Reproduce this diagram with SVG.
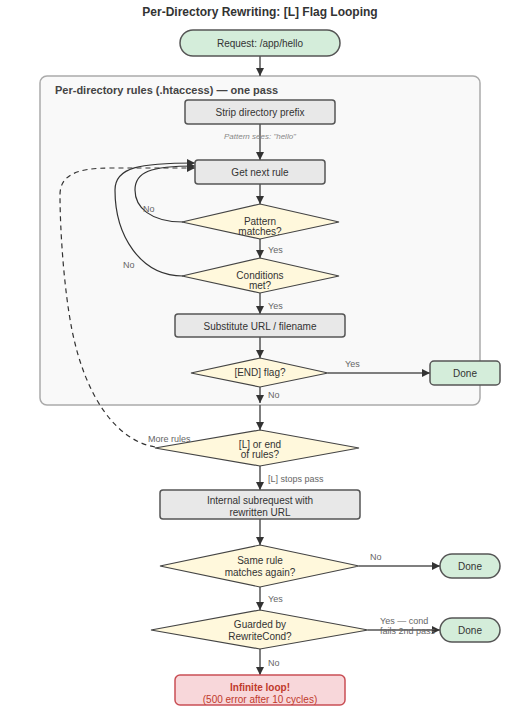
<svg xmlns="http://www.w3.org/2000/svg" width="520" height="720" viewBox="0 0 520 720">
<defs>
<marker id="ah" viewBox="0 0 10 10" refX="10" refY="5" markerWidth="10" markerHeight="8" markerUnits="userSpaceOnUse" orient="auto">
<path d="M0,0 L10,5 L0,10 z" fill="#333"/>
</marker>
<style>
text{font-family:"Liberation Sans",Arial,sans-serif;}
.t{font-size:10px;fill:#333;text-anchor:middle;dominant-baseline:central;}
.lbl{font-size:9px;fill:#666;dominant-baseline:central;}
.proc{fill:#e8e8e8;stroke:#555;stroke-width:1.5;}
.ok{fill:#d4edda;stroke:#555;stroke-width:1.5;}
.dec{fill:#fff8dc;stroke:#444;stroke-width:1.2;}
.e{fill:none;stroke:#555;stroke-width:1.5;marker-end:url(#ah);}
.c{fill:none;stroke:#333;stroke-width:1.2;marker-end:url(#ah);}
</style>
</defs>
<rect width="520" height="720" fill="#fff"/>
<text x="260" y="16" text-anchor="middle" font-size="12" font-weight="bold" fill="#333">Per-Directory Rewriting: [L] Flag Looping</text>

<g id="cluster">
<rect x="40" y="76" width="440" height="329" rx="7" fill="#f9f9f9" stroke="#aaa" stroke-width="1.5"/>
<text x="55" y="90" font-size="11" font-weight="bold" fill="#444" dominant-baseline="central">Per-directory rules (.htaccess) — one pass</text>
</g>

<g id="connectors">
<path class="e" d="M260,56 L260,76"/>
<path class="e" d="M260,124 L260,160"/>
<path class="e" d="M260,184 L260,204"/>
<path class="e" d="M260,239 L260,258"/>
<path class="e" d="M260,293 L260,314"/>
<path class="e" d="M260,337 L260,358"/>
<path class="e" d="M328,373 L430,373"/>
<path class="e" d="M260,387 L260,403"/>
<path class="e" d="M260,405 L260,430"/>
<path class="e" d="M260,466 L260,490"/>
<path class="e" d="M260,519 L260,545"/>
<path class="e" d="M359,566 L440,566"/>
<path class="e" d="M260,587 L260,610"/>
<path class="e" d="M368,630 L440,630"/>
<path class="e" d="M260,649 L260,675"/>
<path class="c" d="M183,222 C150,222 135,207 135,190 C135,172 150,166 195,166"/>
<path class="c" d="M183,276 C140,276 115,235 115,190 C115,167 140,163 195,163"/>
<path class="c" d="M155,447 C115,440 85,395 72,330 C64,290 60,230 60,195 C60,176 75,168 110,168 L195,168" stroke-dasharray="5,4"/>
<text class="lbl" x="268" y="250">Yes</text>
<text class="lbl" x="268" y="306">Yes</text>
<text class="lbl" x="345" y="364">Yes</text>
<text class="lbl" x="268" y="395">No</text>
<text class="lbl" x="143" y="209">No</text>
<text class="lbl" x="123" y="265">No</text>
<text class="lbl" x="148" y="439">More rules</text>
<text class="lbl" x="268" y="479">[L] stops pass</text>
<text class="lbl" x="370" y="557">No</text>
<text class="lbl" x="268" y="599">Yes</text>
<text class="lbl" x="380" y="621">Yes — cond</text>
<text class="lbl" x="380" y="631">fails 2nd pass</text>
<text class="lbl" x="268" y="663">No</text>
<text x="260" y="136" text-anchor="middle" font-size="8" font-style="italic" fill="#888" dominant-baseline="central">Pattern sees: "hello"</text>
</g>

<g id="request">
<rect class="ok" x="180" y="30" width="160" height="26" rx="13"/>
<text class="t" x="260" y="43">Request: /app/hello</text>
</g>
<g id="strip">
<rect class="proc" x="185" y="100" width="150" height="24" rx="3"/>
<text class="t" x="260" y="112">Strip directory prefix</text>
</g>
<g id="nextrule">
<rect class="proc" x="195" y="160" width="130" height="24" rx="3"/>
<text class="t" x="260" y="172">Get next rule</text>
</g>
<g id="pattern">
<polygon class="dec" points="260,204 339,222 260,239 182,222"/>
<text class="t" x="260" y="221">Pattern</text>
<text class="t" x="260" y="231.5">matches?</text>
</g>
<g id="conditions">
<polygon class="dec" points="260,258 339,276 260,293 182,276"/>
<text class="t" x="260" y="275.5">Conditions</text>
<text class="t" x="260" y="285.5">met?</text>
</g>
<g id="substitute">
<rect class="proc" x="175" y="314" width="170" height="23" rx="3"/>
<text class="t" x="260" y="326">Substitute URL / filename</text>
</g>
<g id="endflag">
<polygon class="dec" points="260,358 328,373 260,387 191,373"/>
<text class="t" x="260" y="372.5">[END] flag?</text>
</g>
<g id="done1">
<rect class="ok" x="430" y="361" width="70" height="24" rx="4"/>
<text class="t" x="465" y="373.5">Done</text>
</g>
<g id="lorend">
<polygon class="dec" points="260,430 359,448 260,466 155,448"/>
<text class="t" x="260" y="444">[L] or end</text>
<text class="t" x="260" y="454">of rules?</text>
</g>
<g id="subrequest">
<rect class="proc" x="160" y="490" width="200" height="29" rx="3"/>
<text class="t" x="260" y="500.5">Internal subrequest with</text>
<text class="t" x="260" y="512.5">rewritten URL</text>
</g>
<g id="sameagain">
<polygon class="dec" points="260,545 359,566 260,587 160,566"/>
<text class="t" x="260" y="560">Same rule</text>
<text class="t" x="260" y="572">matches again?</text>
</g>
<g id="done2">
<rect class="ok" x="440" y="554" width="60" height="24" rx="12"/>
<text class="t" x="470" y="566.5">Done</text>
</g>
<g id="guarded">
<polygon class="dec" points="260,610 368,630 260,649 151,630"/>
<text class="t" x="260" y="624.5">Guarded by</text>
<text class="t" x="260" y="636.5">RewriteCond?</text>
</g>
<g id="done3">
<rect class="ok" x="440" y="618" width="60" height="24" rx="12"/>
<text class="t" x="470" y="630.5">Done</text>
</g>
<g id="infinite">
<rect x="175" y="675" width="170" height="30" rx="5" fill="#f8d7da" stroke="#c94f55" stroke-width="1.5"/>
<text class="t" x="260" y="687" font-weight="bold" style="fill:#c0392b">Infinite loop!</text>
<text class="t" x="260" y="699" style="fill:#c0392b">(500 error after 10 cycles)</text>
</g>
</svg>
